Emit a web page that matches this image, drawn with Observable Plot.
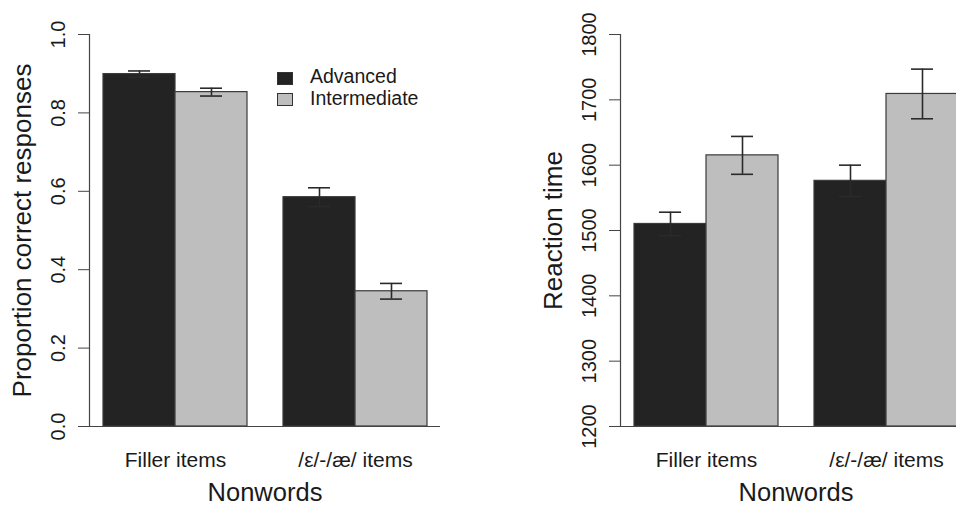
<!DOCTYPE html>
<html><head><meta charset="utf-8">
<script src="https://cdn.jsdelivr.net/npm/d3@7"></script>
<script src="https://cdn.jsdelivr.net/npm/@observablehq/plot@0.6"></script>
<style>
body{margin:0;background:#fff;}
#wrap{position:relative;width:956px;height:508px;overflow:hidden;display:flex;background:#fff;}
#wrap svg{flex:0 0 auto;}
.lg-box{position:absolute;width:14px;height:11px;border:1px solid #333;box-sizing:content-box;}
.lg-txt{position:absolute;font-family:"Liberation Sans",Arial,sans-serif;font-size:19.5px;line-height:19.5px;color:#1a1a1a;white-space:nowrap;}
</style></head>
<body><div id="wrap"></div>
<script>
// ---- data ----
const categories = ["Filler items", "/ε/-/æ/ items"];
const groups = ["Advanced", "Intermediate"];
const groupColors = ["#232323", "#bebebe"];

const accuracyAdvanced = [0.899, 0.585];
const accuracyAdvancedErr = [0.008, 0.024];
const accuracyIntermediate = [0.853, 0.345];
const accuracyIntermediateErr = [0.010, 0.020];
const accuracyTicks = [0, 0.2, 0.4, 0.6, 0.8, 1.0];

const rtAdvanced = [1510, 1576];
const rtAdvancedErr = [18, 24];
const rtIntermediate = [1615, 1709];
const rtIntermediateErr = [29, 38];
const rtTicks = [1200, 1300, 1400, 1500, 1600, 1700, 1800];

const xTitle = "Nonwords";

function rowsOf(adv, advErr, inter, interErr) {
  const rows = [];
  categories.forEach((c, i) => {
    rows.push({category: c, group: groups[0], value: adv[i], lo: adv[i] - advErr[i], hi: adv[i] + advErr[i]});
    rows.push({category: c, group: groups[1], value: inter[i], lo: inter[i] - interErr[i], hi: inter[i] + interErr[i]});
  });
  return rows;
}

const FONT = '"Liberation Sans", Arial, sans-serif';

function panel({rows, yDomain, yTicks, yLabel, tickFormat}) {
  const base = {
    width: 531, height: 508,
    marginLeft: 89, marginRight: 91, marginTop: 34, marginBottom: 82,
    x: {domain: categories, paddingInner: 0.2, paddingOuter: 0.072, axis: null},
    y: {domain: yDomain, axis: null},
    color: {domain: groups, range: groupColors},
    style: {fontFamily: FONT, fontSize: "19.5px", color: "#1a1a1a", background: "white", overflow: "visible"}
  };
  const probe = Plot.plot({...base, marks: [Plot.barY(rows, {x: "category", y1: yDomain[0], y2: "value"})]});
  const bw = probe.scale("x").bandwidth;
  const half = bw / 2;
  const cap = 22;
  const marks = [];
  groups.forEach((g, gi) => {
    const sub = rows.filter(r => r.group === g);
    const off = gi === 0 ? -bw / 4 : bw / 4;
    marks.push(Plot.barY(sub, {
      x: "category", y1: yDomain[0], y2: "value", fill: "group",
      stroke: "#3a3a3a", strokeWidth: 1.2,
      insetLeft: gi === 0 ? 0 : half, insetRight: gi === 0 ? half : 0
    }));
    marks.push(Plot.ruleX(sub, {x: "category", y1: "lo", y2: "hi", dx: off, stroke: "#2a2a2a", strokeWidth: 1.6}));
    for (const k of ["lo", "hi"]) {
      marks.push(Plot.tickY(sub, {x: "category", y: k, dx: off, stroke: "#2a2a2a", strokeWidth: 1.6,
        insetLeft: (bw - cap) / 2, insetRight: (bw - cap) / 2}));
    }
  });
  marks.push(Plot.ruleY([yDomain[0]], {stroke: "#444", strokeWidth: 1.2}));
  marks.push(Plot.frame({anchor: "left", stroke: "#444", strokeWidth: 1.2}));
  marks.push(Plot.axisY({ticks: yTicks, tickSize: 11, tickPadding: 14, tickRotate: -90, tickFormat,
    fontSize: 20, label: null, stroke: "#444"}));
  marks.push(Plot.axisX({tickSize: 0, tickPadding: 26, fontSize: 21, label: null}));
  marks.push(Plot.text([yLabel], {frameAnchor: "left", textAnchor: "middle", lineAnchor: "middle",
    rotate: -90, dx: -67, fontSize: 26, text: d => d}));
  marks.push(Plot.text([xTitle], {frameAnchor: "bottom", textAnchor: "middle", dy: 56, lineAnchor: "top",
    fontSize: 25.5, text: d => d}));
  return Plot.plot({...base, marks});
}

const wrap = document.getElementById("wrap");
wrap.appendChild(panel({
  rows: rowsOf(accuracyAdvanced, accuracyAdvancedErr, accuracyIntermediate, accuracyIntermediateErr),
  yDomain: [0, 1], yTicks: accuracyTicks, yLabel: "Proportion correct responses",
  tickFormat: d3.format(".1f")
}));
wrap.appendChild(panel({
  rows: rowsOf(rtAdvanced, rtAdvancedErr, rtIntermediate, rtIntermediateErr),
  yDomain: [1200, 1800], yTicks: rtTicks, yLabel: "Reaction time",
  tickFormat: d3.format("d")
}));

// legend (inside left panel)
groups.forEach((g, i) => {
  const box = document.createElement("div");
  box.className = "lg-box";
  box.style.left = "277px";
  box.style.top = (71.5 + i * 21.7) + "px";
  box.style.background = groupColors[i];
  wrap.appendChild(box);
  const t = document.createElement("div");
  t.className = "lg-txt";
  t.textContent = g;
  t.style.left = "310px";
  t.style.top = (66.8 + i * 21.7) + "px";
  wrap.appendChild(t);
});
</script>
</body></html>
